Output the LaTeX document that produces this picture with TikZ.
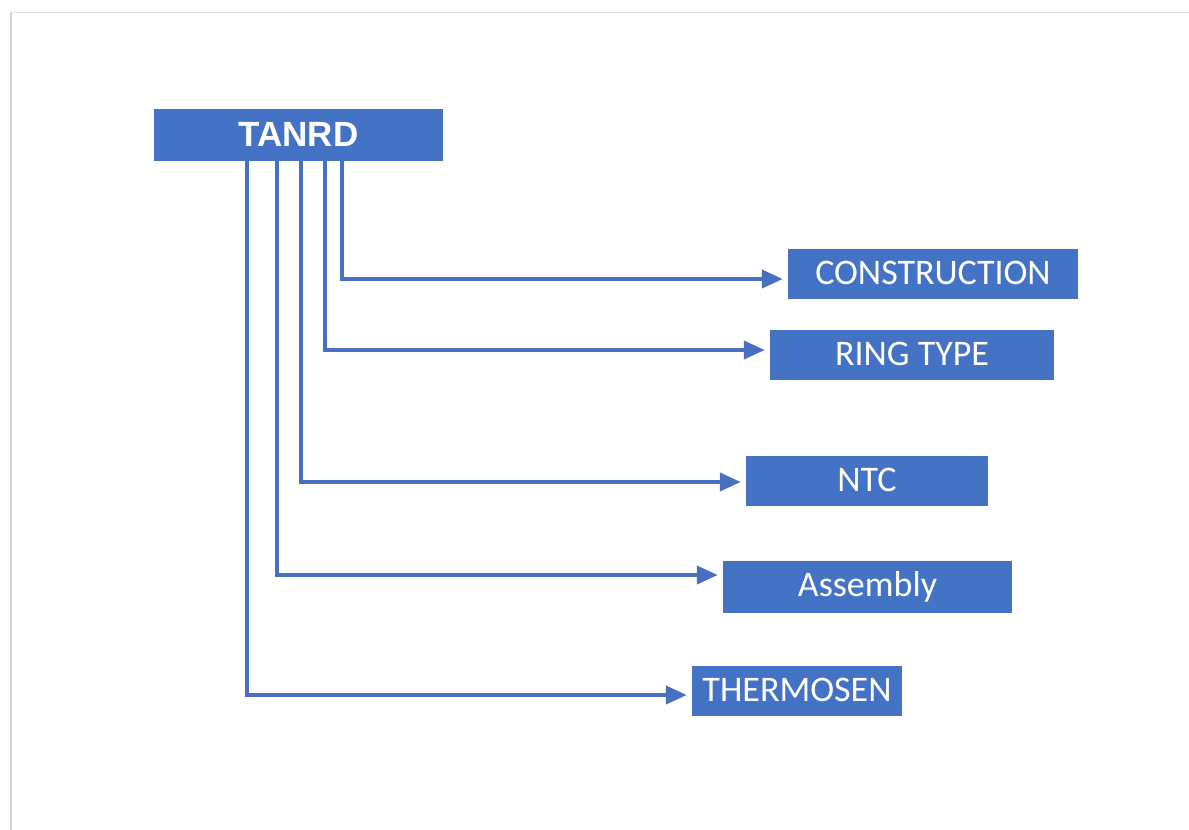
\documentclass[tikz,border=0pt]{standalone}
\usepackage{fontspec}
\setmainfont{Carlito}
\newfontfamily\boldsans{Liberation Sans}
\usetikzlibrary{arrows.meta}
\definecolor{boxblue}{HTML}{4472C4}
\definecolor{lineblue}{HTML}{4A6EC0}
\definecolor{frame}{HTML}{D4D4D4}
\tikzset{
  leaf/.style={fill=boxblue, draw=none, text=white, inner sep=0pt, font=\fontsize{36}{38}\selectfont, anchor=center},
  root/.style={fill=boxblue, draw=none, text=white, inner sep=0pt, font=\boldsans\bfseries\fontsize{35}{37}\selectfont},
  conn/.style={draw=lineblue, line width=4pt, -{Triangle[length=21pt,width=18pt]}, shorten >=5pt}
}
\begin{document}
\begin{tikzpicture}[x=1pt,y=-1pt]
\useasboundingbox (0,0) rectangle (1189,830);
\fill[white] (0,0) rectangle (1189,830);
% faint frame
\draw[frame, line width=2pt] (11,12) -- (11,830);
\draw[frame!70, line width=1pt] (11,12) -- (1189,12);

\node[root, minimum width=289pt, minimum height=52pt] (tanrd) at (298.5,135) {\raisebox{2pt}{TANRD}};
\node[leaf, minimum width=290pt, minimum height=50pt] (cons) at (933,274) {\raisebox{2pt}{CONSTRUCTION}};
\node[leaf, minimum width=284pt, minimum height=50pt] (ring) at (912,355) {\raisebox{2pt}{RING TYPE}};
\node[leaf, minimum width=242pt, minimum height=50pt] (ntc) at (867,481) {\raisebox{2pt}{NTC}};
\node[leaf, minimum width=289pt, minimum height=52pt] (asm) at (867.5,587) {\raisebox{2pt}{Assembly}};
\node[leaf, minimum width=210pt, minimum height=50pt] (therm) at (797,691) {\raisebox{2pt}{THERMOSEN}};

\draw[conn] ([xshift=188pt]tanrd.south west) |- ([yshift=-5pt]cons.west);
\draw[conn] ([xshift=171pt]tanrd.south west) |- ([yshift=5pt]ring.west);
\draw[conn] ([xshift=147pt]tanrd.south west) |- ([yshift=-1pt]ntc.west);
\draw[conn] ([xshift=123pt]tanrd.south west) |- ([yshift=12pt]asm.west);
\draw[conn] ([xshift=93pt]tanrd.south west) |- ([yshift=-4pt]therm.west);
\end{tikzpicture}
\end{document}
